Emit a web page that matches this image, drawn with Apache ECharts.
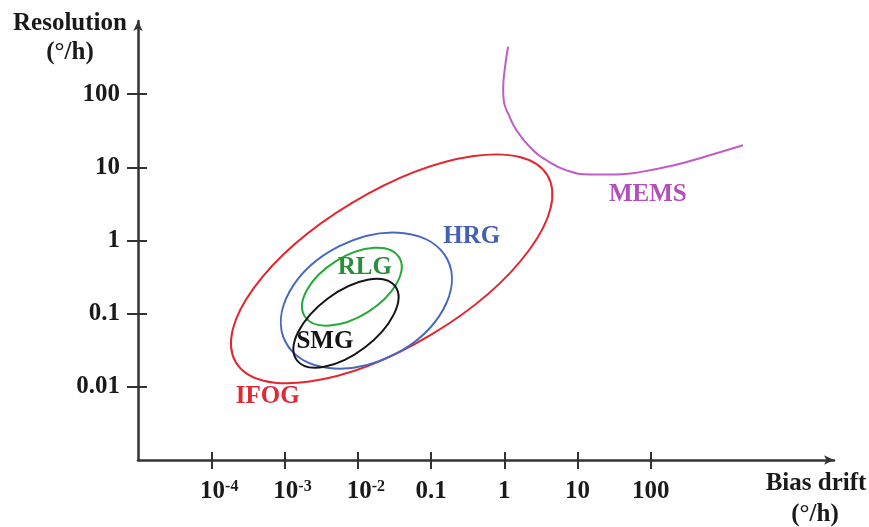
<!DOCTYPE html>
<html>
<head>
<meta charset="utf-8">
<style>
  html, body { margin: 0; padding: 0; background: #fff; }
  #chart { width: 869px; height: 527px; }
</style>
<script src="https://cdn.jsdelivr.net/npm/echarts@6/dist/echarts.min.js"></script>
</head>
<body>
<div id="chart"></div>
<script>
// Axis ticks (°/h)
const biasTicks = [1e-4, 1e-3, 1e-2, 0.1, 1, 10, 100];
const biasTickLabels = ['10^-4', '10^-3', '10^-2', '0.1', '1', '10', '100'];
const resTicks = [0.01, 0.1, 1, 10, 100];
const resTickLabels = ['0.01', '0.1', '1', '10', '100'];

// Gyro technology regions: centre (bias drift, resolution), half-axes in decades, tilt in degrees
const regionNames = ['IFOG', 'HRG', 'RLG', 'SMG'];
const regionCenterBias = [0.029, 0.0131, 0.0083, 0.0069];
const regionCenterRes = [0.41, 0.151, 0.234, 0.074];
const regionHalfMajor = [2.48, 1.24, 0.76, 0.84];
const regionHalfMinor = [1.05, 0.83, 0.41, 0.42];
const regionTilt = [31, 27, 32, 37];
const regionLabelBias = [5.9e-4, 0.36, 0.0125, 0.00356];
const regionLabelRes = [0.0073, 1.13, 0.43, 0.041];

// MEMS boundary curve
const memsBias = [1.127, 1.02, 0.964, 0.99, 1.127, 1.466, 2.23, 3.77, 7.06, 14.7, 34.0, 70.6, 201, 574, 1811];
const memsRes = [445, 230, 113.5, 78, 54.5, 32.1, 19.0, 12.5, 9.1, 8.0, 8.0, 8.6, 10.6, 14.2, 20.0];
const memsLabelBias = 91;
const memsLabelRes = 4.27;

const lineColors = { IFOG: '#e3262f', HRG: '#4768c0', RLG: '#25a93a', SMG: '#141414', MEMS: '#c05cc6' };
const textColors = { IFOG: '#dd2a36', HRG: '#4460b2', RLG: '#2a8c3c', SMG: '#141414', MEMS: '#b24fba' };

const FONT = '"Liberation Serif", "Times New Roman", serif';
const FONT_SIZE = 25;
const textColor = '#1a1a1a';
const axisColor = '#333';

const chart = echarts.init(document.getElementById('chart'), null, { renderer: 'canvas' });

function biasLabel(v) {
  const i = biasTicks.findIndex(t => Math.abs(Math.log10(t) - Math.log10(v)) < 1e-6);
  const s = i >= 0 ? biasTickLabels[i] : '';
  if (s.indexOf('^') >= 0) {
    const parts = s.split('^');
    return '{p|}{b|' + parts[0] + '}{s|' + parts[1] + '}';
  }
  return '{b|' + s + '}';
}
function resLabel(v) {
  const i = resTicks.findIndex(t => Math.abs(Math.log10(t) - Math.log10(v)) < 1e-6);
  return i >= 0 ? resTickLabels[i] : '';
}

const regionData = regionNames.map((n, i) => [regionCenterBias[i], regionCenterRes[i], regionHalfMajor[i], regionHalfMinor[i], regionTilt[i], i]);
const labelData = regionNames.map((n, i) => [regionLabelBias[i], regionLabelRes[i], n]).concat([[memsLabelBias, memsLabelRes, 'MEMS']]);

const xMin = 1e-5, xMax = Math.pow(10, 4.5);
const yMin = 1e-3, yMax = 1e3;

const boldFont = 'bold ' + FONT_SIZE + 'px ' + FONT;

const option = {
  backgroundColor: '#ffffff',
  animation: false,
  grid: { left: 138, right: 35, top: 21, bottom: 67, containLabel: false },
  xAxis: [
    {
      type: 'log', logBase: 10, min: xMin, max: xMax, position: 'bottom',
      axisLine: { show: true, lineStyle: { color: axisColor, width: 2.5 }, symbol: ['none', 'arrow'], symbolSize: [7, 10] },
      axisTick: { show: true, inside: false, length: 9, customValues: biasTicks, lineStyle: { color: axisColor, width: 2 } },
      axisLabel: {
        show: true, customValues: biasTicks, margin: 19, formatter: biasLabel,
        rich: {
          p: { width: 16 },
          b: { fontFamily: FONT, fontWeight: 'bold', fontSize: FONT_SIZE, color: textColor, lineHeight: 26 },
          s: { fontFamily: FONT, fontWeight: 'bold', fontSize: 16, color: textColor, lineHeight: 16, verticalAlign: 'top' }
        }
      },
      splitLine: { show: false }, minorTick: { show: false }
    },
    {
      type: 'log', logBase: 10, min: xMin, max: xMax, position: 'bottom',
      axisLine: { show: false },
      axisTick: { show: true, inside: true, length: 8, customValues: biasTicks, lineStyle: { color: axisColor, width: 2 } },
      axisLabel: { show: false },
      splitLine: { show: false }
    }
  ],
  yAxis: [
    {
      type: 'log', logBase: 10, min: yMin, max: yMax, position: 'left',
      axisLine: { show: true, lineStyle: { color: axisColor, width: 2.5 }, symbol: ['none', 'arrow'], symbolSize: [7, 10] },
      axisTick: { show: true, inside: false, length: 11, customValues: resTicks, lineStyle: { color: axisColor, width: 2 } },
      axisLabel: {
        show: true, customValues: resTicks, margin: 18, formatter: resLabel,
        fontFamily: FONT, fontWeight: 'bold', fontSize: FONT_SIZE, color: textColor
      },
      splitLine: { show: false }, minorTick: { show: false }
    },
    {
      type: 'log', logBase: 10, min: yMin, max: yMax, position: 'left',
      axisLine: { show: false },
      axisTick: { show: true, inside: true, length: 9, customValues: resTicks, lineStyle: { color: axisColor, width: 2 } },
      axisLabel: { show: false },
      splitLine: { show: false }
    }
  ],
  graphic: [
    { type: 'text', x: 70, y: 24, style: { text: 'Resolution', font: boldFont, fill: textColor, textAlign: 'center', textVerticalAlign: 'middle' } },
    { type: 'text', x: 70, y: 53, style: { text: '(°/h)', font: boldFont, fill: textColor, textAlign: 'center', textVerticalAlign: 'middle' } },
    { type: 'text', x: 816, y: 484, style: { text: 'Bias drift', font: boldFont, fill: textColor, textAlign: 'center', textVerticalAlign: 'middle' } },
    { type: 'text', x: 815, y: 515, style: { text: '(°/h)', font: boldFont, fill: textColor, textAlign: 'center', textVerticalAlign: 'middle' } }
  ],
  series: [
    {
      name: 'regions', type: 'custom', coordinateSystem: 'cartesian2d', silent: true,
      data: regionData,
      encode: { x: 0, y: 1 },
      renderItem: function (params, api) {
        const bx = api.value(0), ry = api.value(1);
        const c = api.coord([bx, ry]);
        const c1 = api.coord([bx * 10, ry * 10]);
        const pxPerDecX = c1[0] - c[0];
        const pxPerDecY = c[1] - c1[1];
        const name = regionNames[api.value(5)];
        return {
          type: 'ellipse',
          x: c[0], y: c[1],
          rotation: api.value(4) * Math.PI / 180,
          shape: { cx: 0, cy: 0, rx: api.value(2) * pxPerDecX, ry: api.value(3) * pxPerDecY },
          style: { fill: 'none', stroke: lineColors[name], lineWidth: 2 }
        };
      },
      z: 3
    },
    {
      name: 'MEMS', type: 'line', smooth: 0.5, symbol: 'none', silent: true,
      data: memsBias.map((b, i) => [b, memsRes[i]]),
      lineStyle: { color: lineColors.MEMS, width: 2 },
      z: 3
    },
    {
      name: 'labels', type: 'custom', coordinateSystem: 'cartesian2d', silent: true,
      data: labelData,
      encode: { x: 0, y: 1 },
      renderItem: function (params, api) {
        const p = api.coord([api.value(0), api.value(1)]);
        const name = labelData[params.dataIndex][2];
        return {
          type: 'text', x: p[0], y: p[1],
          style: { text: name, font: boldFont, fill: textColors[name], textAlign: 'center', textVerticalAlign: 'middle' }
        };
      },
      z: 4
    }
  ]
};

chart.setOption(option);
</script>
</body>
</html>
